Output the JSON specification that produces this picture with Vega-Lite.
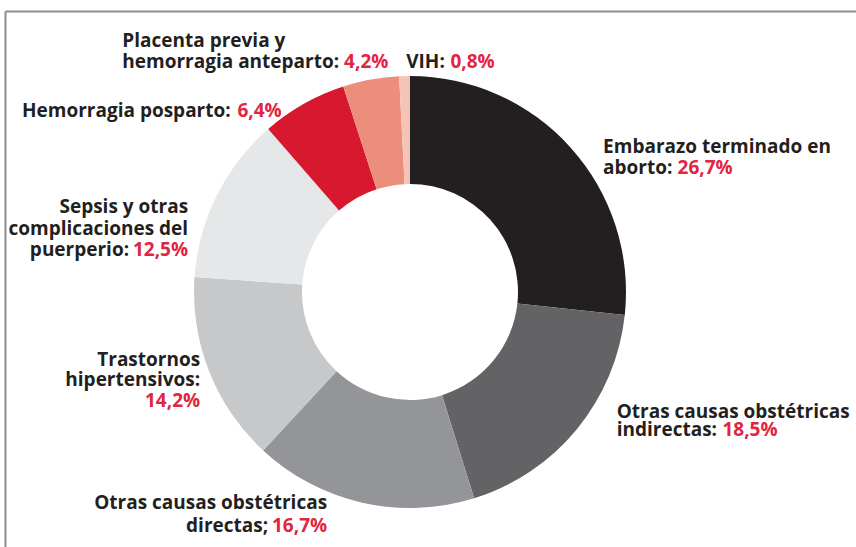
{
  "$schema": "https://vega.github.io/schema/vega-lite/v6.json",
  "width": 810,
  "height": 562,
  "autosize": {"type": "none"},
  "padding": {"left": 5, "top": 11, "right": 41, "bottom": -26},
  "background": "white",
  "config": {
    "view": {"stroke": null},
    "text": {"font": "Open Sans", "fontWeight": 700, "fontSize": 19, "color": "#231f20"}
  },
  "data": {
    "values": [
      {"causa": "Embarazo terminado en aborto", "nombre": "Embarazo terminado en\naborto:", "valor": 26.7},
      {"causa": "Otras causas obstétricas indirectas", "nombre": "Otras causas obstétricas\nindirectas:", "valor": 18.5},
      {"causa": "Otras causas obstétricas directas", "nombre": "Otras causas obstétricas\ndirectas;", "valor": 16.7},
      {"causa": "Trastornos hipertensivos", "nombre": "Trastornos\nhipertensivos:", "valor": 14.2},
      {"causa": "Sepsis y otras complicaciones del puerperio", "nombre": "Sepsis y otras\ncomplicaciones del\npuerperio:", "valor": 12.5},
      {"causa": "Hemorragia posparto", "nombre": "Hemorragia posparto:", "valor": 6.4},
      {"causa": "Placenta previa y hemorragia anteparto", "nombre": "Placenta previa y\nhemorragia anteparto:", "valor": 4.2},
      {"causa": "VIH", "nombre": "VIH:", "valor": 0.8}
    ]
  },
  "transform": [
    {"window": [{"op": "sum", "field": "valor", "as": "fin"}], "frame": [null, 0]},
    {"calculate": "datum.fin - datum.valor", "as": "inicio"},
    {"calculate": "datum.fin - datum.valor / 2", "as": "mid"},
    {"calculate": "replace(format(datum.valor, '.1f'), '.', ',') + '%'", "as": "pct"},
    {"calculate": "slice(datum.nombre, 0, max(0, lastindexof(datum.nombre, '\\n')))", "as": "superior"},
    {"calculate": "slice(datum.nombre, lastindexof(datum.nombre, '\\n') + 1)", "as": "ultimaLinea"}
  ],
  "layer": [
    {
      "mark": {"type": "point", "opacity": 0},
      "encoding": {
        "x": {"datum": 0, "type": "quantitative", "scale": {"domain": [0, 1], "range": [0, 851]},
              "axis": {"orient": "top", "domain": true, "domainColor": "#8e8e8e", "domainWidth": 2, "ticks": false, "labels": false, "grid": false, "title": null}},
        "y": {"datum": 0, "type": "quantitative", "scale": {"domain": [0, 1]},
              "axis": {"orient": "left", "domain": true, "domainColor": "#8e8e8e", "domainWidth": 2, "ticks": false, "labels": false, "grid": false, "title": null}}
      }
    },
    {
      "mark": {"type": "arc", "radius": 216, "innerRadius": 108},
      "encoding": {
        "theta": {"field": "inicio", "type": "quantitative", "scale": {"domain": [0, 100]}},
        "theta2": {"field": "fin"},
        "color": {
          "field": "causa", "type": "nominal", "legend": null,
          "scale": {
            "domain": ["Embarazo terminado en aborto", "Otras causas obstétricas indirectas", "Otras causas obstétricas directas", "Trastornos hipertensivos", "Sepsis y otras complicaciones del puerperio", "Hemorragia posparto", "Placenta previa y hemorragia anteparto", "VIH"],
            "range": ["#231f20", "#636365", "#939598", "#c7c8ca", "#e6e7e8", "#d7182f", "#eb8f7c", "#f6c4b6"]
          }
        }
      }
    },
    {
      "transform": [{"filter": "datum.causa === 'Embarazo terminado en aborto'"}],
      "mark": {"type": "text", "align": "left", "baseline": "alphabetic", "radius": 230, "dx": 22, "dy": 15, "lineBreak": "\n", "lineHeight": 21},
      "encoding": {"theta": {"field": "mid", "type": "quantitative", "scale": {"domain": [0, 100]}}, "text": {"field": "nombre"}}
    },
    {
      "transform": [{"filter": "datum.causa === 'Embarazo terminado en aborto'"}],
      "mark": {"type": "text", "align": "left", "baseline": "alphabetic", "radius": 230, "dx": 96.5, "dy": 36, "color": "#e2253f"},
      "encoding": {"theta": {"field": "mid", "type": "quantitative", "scale": {"domain": [0, 100]}}, "text": {"field": "pct"}}
    },
    {
      "transform": [{"filter": "datum.causa === 'Otras causas obstétricas indirectas'"}],
      "mark": {"type": "text", "align": "left", "baseline": "alphabetic", "radius": 230, "dx": 29, "dy": -20, "lineBreak": "\n", "lineHeight": 18},
      "encoding": {"theta": {"field": "mid", "type": "quantitative", "scale": {"domain": [0, 100]}}, "text": {"field": "nombre"}}
    },
    {
      "transform": [{"filter": "datum.causa === 'Otras causas obstétricas indirectas'"}],
      "mark": {"type": "text", "align": "left", "baseline": "alphabetic", "radius": 230, "dx": 134.8, "dy": -2, "color": "#e2253f"},
      "encoding": {"theta": {"field": "mid", "type": "quantitative", "scale": {"domain": [0, 100]}}, "text": {"field": "pct"}}
    },
    {
      "transform": [{"filter": "datum.causa === 'Otras causas obstétricas directas'"}],
      "mark": {"type": "text", "align": "right", "baseline": "alphabetic", "radius": 230, "dx": -32, "dy": -7},
      "encoding": {"theta": {"field": "mid", "type": "quantitative", "scale": {"domain": [0, 100]}}, "text": {"field": "superior"}}
    },
    {
      "transform": [{"filter": "datum.causa === 'Otras causas obstétricas directas'"}],
      "mark": {"type": "text", "align": "right", "baseline": "alphabetic", "radius": 230, "dx": -91, "dy": 16},
      "encoding": {"theta": {"field": "mid", "type": "quantitative", "scale": {"domain": [0, 100]}}, "text": {"field": "ultimaLinea"}}
    },
    {
      "transform": [{"filter": "datum.causa === 'Otras causas obstétricas directas'"}],
      "mark": {"type": "text", "align": "right", "baseline": "alphabetic", "radius": 230, "dx": -32, "dy": 16, "color": "#e2253f"},
      "encoding": {"theta": {"field": "mid", "type": "quantitative", "scale": {"domain": [0, 100]}}, "text": {"field": "pct"}}
    },
    {
      "transform": [{"filter": "datum.causa === 'Trastornos hipertensivos'"}],
      "mark": {"type": "text", "align": "right", "baseline": "alphabetic", "radius": 230, "dx": 4, "dy": -11, "lineBreak": "\n", "lineHeight": 20.5},
      "encoding": {"theta": {"field": "mid", "type": "quantitative", "scale": {"domain": [0, 100]}}, "text": {"field": "nombre"}}
    },
    {
      "transform": [{"filter": "datum.causa === 'Trastornos hipertensivos'"}],
      "mark": {"type": "text", "align": "right", "baseline": "alphabetic", "radius": 230, "dx": 4, "dy": 30, "color": "#e2253f"},
      "encoding": {"theta": {"field": "mid", "type": "quantitative", "scale": {"domain": [0, 100]}}, "text": {"field": "pct"}}
    },
    {
      "transform": [{"filter": "datum.causa === 'Sepsis y otras complicaciones del puerperio'"}],
      "mark": {"type": "text", "align": "right", "baseline": "alphabetic", "radius": 230, "dx": -16, "dy": 23.5, "lineBreak": "\n", "lineHeight": 21.5},
      "encoding": {"theta": {"field": "mid", "type": "quantitative", "scale": {"domain": [0, 100]}}, "text": {"field": "superior"}}
    },
    {
      "transform": [{"filter": "datum.causa === 'Sepsis y otras complicaciones del puerperio'"}],
      "mark": {"type": "text", "align": "right", "baseline": "alphabetic", "radius": 230, "dx": -75, "dy": 66.5},
      "encoding": {"theta": {"field": "mid", "type": "quantitative", "scale": {"domain": [0, 100]}}, "text": {"field": "ultimaLinea"}}
    },
    {
      "transform": [{"filter": "datum.causa === 'Sepsis y otras complicaciones del puerperio'"}],
      "mark": {"type": "text", "align": "right", "baseline": "alphabetic", "radius": 230, "dx": -16, "dy": 66.5, "color": "#e2253f"},
      "encoding": {"theta": {"field": "mid", "type": "quantitative", "scale": {"domain": [0, 100]}}, "text": {"field": "pct"}}
    },
    {
      "transform": [{"filter": "datum.causa === 'Hemorragia posparto'"}],
      "mark": {"type": "text", "align": "right", "baseline": "alphabetic", "radius": 230, "dx": -66, "dy": 25},
      "encoding": {"theta": {"field": "mid", "type": "quantitative", "scale": {"domain": [0, 100]}}, "text": {"field": "nombre"}}
    },
    {
      "transform": [{"filter": "datum.causa === 'Hemorragia posparto'"}],
      "mark": {"type": "text", "align": "right", "baseline": "alphabetic", "radius": 230, "dx": -15, "dy": 25, "color": "#e2253f"},
      "encoding": {"theta": {"field": "mid", "type": "quantitative", "scale": {"domain": [0, 100]}}, "text": {"field": "pct"}}
    },
    {
      "transform": [{"filter": "datum.causa === 'Placenta previa y hemorragia anteparto'"}],
      "mark": {"type": "text", "align": "left", "baseline": "alphabetic", "radius": 230, "dx": -246, "dy": -19, "lineBreak": "\n", "lineHeight": 21},
      "encoding": {"theta": {"field": "mid", "type": "quantitative", "scale": {"domain": [0, 100]}}, "text": {"field": "nombre"}}
    },
    {
      "transform": [{"filter": "datum.causa === 'Placenta previa y hemorragia anteparto'"}],
      "mark": {"type": "text", "align": "left", "baseline": "alphabetic", "radius": 230, "dx": -24.2, "dy": 2, "color": "#e2253f"},
      "encoding": {"theta": {"field": "mid", "type": "quantitative", "scale": {"domain": [0, 100]}}, "text": {"field": "pct"}}
    },
    {
      "transform": [{"filter": "datum.causa === 'VIH'"}],
      "mark": {"type": "text", "align": "left", "baseline": "alphabetic", "radius": 230, "dx": 2, "dy": 6},
      "encoding": {"theta": {"field": "mid", "type": "quantitative", "scale": {"domain": [0, 100]}}, "text": {"field": "nombre"}}
    },
    {
      "transform": [{"filter": "datum.causa === 'VIH'"}],
      "mark": {"type": "text", "align": "left", "baseline": "alphabetic", "radius": 230, "dx": 46.2, "dy": 6, "color": "#e2253f"},
      "encoding": {"theta": {"field": "mid", "type": "quantitative", "scale": {"domain": [0, 100]}}, "text": {"field": "pct"}}
    }
  ]
}
